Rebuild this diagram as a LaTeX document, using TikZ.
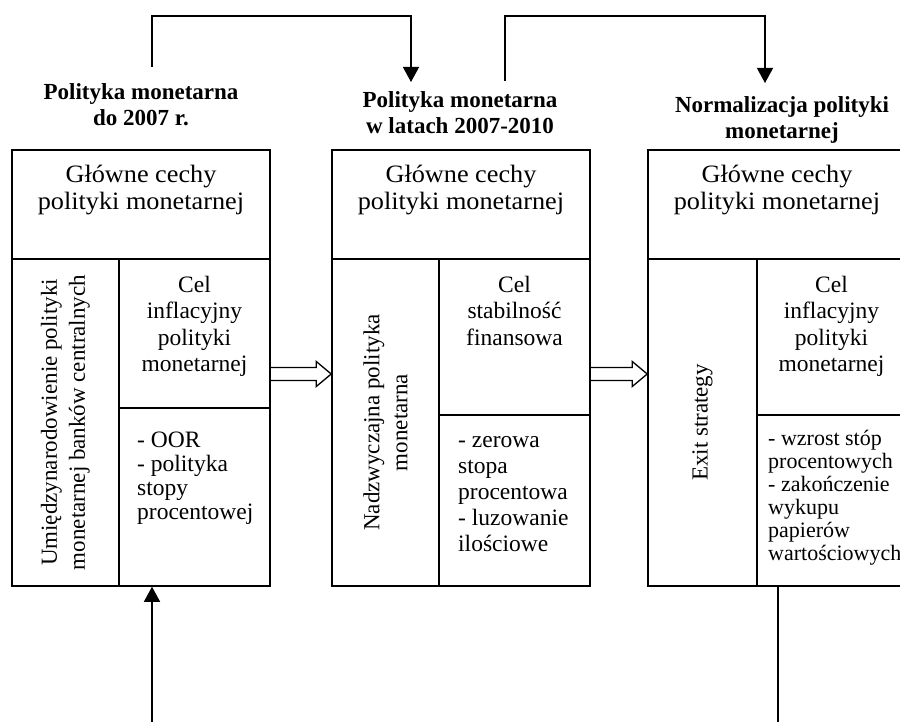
\documentclass[tikz,border=0pt]{standalone}
\usepackage{fontspec}
\setmainfont{Liberation Serif}
\newfontfamily\widefont[FakeStretch=1.05]{Liberation Serif}
\usetikzlibrary{arrows.meta,calc}
\newcommand\ftitle{\fontsize{23}{26}\selectfont\bfseries}
\newcommand\ftop{\widefont\fontsize{25}{27}\selectfont}
\newcommand\fbody{\fontsize{23.5}{26.5}\selectfont}
\newcommand\frot{\fontsize{23}{28}\selectfont}
\begin{document}
\begin{tikzpicture}[x=1pt,y=-1pt,
  cell/.style={draw, line width=1.5pt, inner sep=0pt},
  conn/.style={line width=1.3pt},
  tip/.style={-{Triangle[length=15pt,width=16pt]}},
  hollow/.style={line width=1.3pt, line join=miter},
  ttl/.style={font=\ftitle, align=center, inner sep=0pt, anchor=north},
  ctxt/.style={align=center, inner sep=0pt, anchor=north},
  ltxt/.style={align=left, inner sep=0pt, anchor=north west},
  rtxt/.style={font=\frot, align=center, inner sep=0pt, rotate=90}]
\useasboundingbox (0,0) rectangle (900,722);

% titles
\node[ttl] (ti1) at (141,81.3) {\strut Polityka monetarna\\do 2007 r.};
\node[ttl] (ti2) at (460,89.5) {\strut Polityka monetarna\\w latach 2007-2010};
\node[ttl] (ti3) at (782,94) {\strut Normalizacja  polityki\\monetarnej};

% box 1
\node[cell, minimum width=258pt, minimum height=109pt] (b1t) at (141,204.5) {};
\node[cell, minimum width=107pt, minimum height=327pt] (b1l) at (65.5,422.5) {};
\node[cell, minimum width=151pt, minimum height=149pt] (b1u) at (194.5,333.5) {};
\node[cell, minimum width=151pt, minimum height=178pt] (b1d) at (194.5,497) {};
% box 2
\node[cell, minimum width=258pt, minimum height=109pt] (b2t) at (461,204.5) {};
\node[cell, minimum width=107pt, minimum height=327pt] (b2l) at (385.5,422.5) {};
\node[cell, minimum width=151pt, minimum height=156pt] (b2u) at (514.5,337) {};
\node[cell, minimum width=151pt, minimum height=171pt] (b2d) at (514.5,500.5) {};
% box 3
\node[cell, minimum width=258pt, minimum height=109pt] (b3t) at (777,204.5) {};
\node[cell, minimum width=109pt, minimum height=327pt] (b3l) at (702.5,422.5) {};
\node[cell, minimum width=149pt, minimum height=156pt] (b3u) at (831.5,337) {};
\node[cell, minimum width=149pt, minimum height=171pt] (b3d) at (831.5,500.5) {};

% top cell texts
\node[ctxt, font=\ftop] (g1) at (141,163) {\strut Główne cechy\\polityki monetarnej};
\node[ctxt, font=\ftop] (g2) at (461,163) {\strut Główne cechy\\polityki monetarnej};
\node[ctxt, font=\ftop] (g3) at (777,163) {\strut Główne cechy\\polityki monetarnej};

% rotated texts
\node[rtxt] (r1) at (b1l.center) {Umiędzynarodowienie polityki\\monetarnej banków centralnych};
\node[rtxt] (r2) at (b2l.center) {Nadzwyczajna polityka\\monetarna};
\node[rtxt] (r3) at (b3l.center) {Exit strategy};

% upper right texts
\node[ctxt, font=\fbody] (u1) at (194.5,273.5) {\strut Cel\\inflacyjny\\polityki\\monetarnej};
\node[ctxt, font=\fbody] (u2) at (514.5,273.5) {\strut Cel\\stabilność\\finansowa};
\node[ctxt, font=\fbody] (u3) at (831.5,273.5) {\strut Cel\\inflacyjny\\polityki\\monetarnej};

% lower right texts
\node[ltxt, font=\fontsize{23.5}{24}\selectfont] (d1) at (137,430.2) {\strut - OOR\\- polityka\\stopy\\procentowej};
\node[ltxt, font=\fontsize{23.5}{26}\selectfont] (d2) at (458,429) {\strut - zerowa\\stopa\\procentowa\\- luzowanie\\ilościowe};
\node[ltxt, font=\fontsize{22}{23}\selectfont] (d3) at (768,429) {\strut - wzrost stóp\\procentowych\\- zakończenie\\wykupu\\papierów\\wartościowych};

% hollow arrows
\coordinate (h1s) at (b1u.east |- 0,374);
\coordinate (h1e) at (b2l.west |- 0,374);
\coordinate (h2s) at (b2u.east |- 0,374);
\coordinate (h2e) at (b3l.west |- 0,374);
\draw[hollow] ($(h1s)+(0,-6.5)$) -- ($(h1e)+(-15,-6.5)$) -- ($(h1e)+(-15,-12.5)$) -- (h1e)
  -- ($(h1e)+(-15,12.5)$) -- ($(h1e)+(-15,6.5)$) -- ($(h1s)+(0,6.5)$);
\draw[hollow] ($(h2s)+(0,-6.5)$) -- ($(h2e)+(-15,-6.5)$) -- ($(h2e)+(-15,-12.5)$) -- (h2e)
  -- ($(h2e)+(-15,12.5)$) -- ($(h2e)+(-15,6.5)$) -- ($(h2s)+(0,6.5)$);

% top connectors
\coordinate (topy) at (0,16);
\coordinate (c1s) at (152,67);
\coordinate (c1e) at (411,82);
\coordinate (c2s) at (505,81);
\coordinate (c2e) at (765,83);
\draw[conn, tip] (c1s) -- (c1s |- topy) -| (c1e);
\draw[conn, tip] (c2s) -- (c2s |- topy) -| (c2e);

% bottom connectors
\coordinate (bt1) at (152,722);
\coordinate (bt3) at (778,722);
\draw[conn, tip] (bt1) -- (bt1 |- b1d.south);
\draw[conn] (bt3 |- b3d.south) -- (bt3);
\end{tikzpicture}
\end{document}
